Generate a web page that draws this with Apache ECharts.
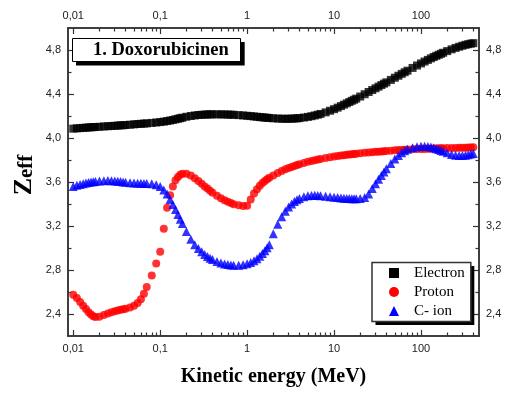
<!DOCTYPE html>
<html>
<head>
<meta charset="utf-8">
<title>Zeff - Doxorubicinen</title>
<script src="https://cdn.jsdelivr.net/npm/echarts@6/dist/echarts.min.js"></script>
<style>
html, body { margin: 0; padding: 0; background: #fff; }
#zeffChart { width: 506px; height: 394px; }
</style>
</head>
<body>
<div id="zeffChart"></div>
<script>
// energy grid (MeV)
var energy = [
	0.010, 0.011, 0.012, 0.013, 0.014, 0.015, 0.016, 0.017, 0.018, 0.020, 0.0225, 0.025, 0.0275,
	0.030, 0.0325, 0.035, 0.0375, 0.040, 0.045, 0.050, 0.055, 0.060, 0.065, 0.070, 0.080, 0.090,
	0.10, 0.11, 0.12, 0.13, 0.14, 0.15, 0.16, 0.17, 0.18, 0.20, 0.225, 0.25, 0.275,
	0.30, 0.325, 0.35, 0.375, 0.40, 0.45, 0.50, 0.55, 0.60, 0.65, 0.70, 0.80, 0.90,
	1.0, 1.1, 1.2, 1.3, 1.4, 1.5, 1.6, 1.7, 1.8, 2.0, 2.25, 2.5, 2.75,
	3.0, 3.25, 3.5, 3.75, 4.0, 4.5, 5.0, 5.5, 6.0, 6.5, 7.0, 8.0, 9.0,
	10, 11, 12, 13, 14, 15, 16, 17, 18, 20, 22.5, 25, 27.5,
	30, 32.5, 35, 37.5, 40, 45, 50, 55, 60, 65, 70, 80, 90,
	100, 110, 120, 130, 140, 150, 160, 170, 180, 200, 225, 250, 275,
	300, 325, 350, 375, 400
];
var electron = [
	4.085, 4.088, 4.090, 4.092, 4.094, 4.096, 4.097, 4.099, 4.100, 4.102, 4.105, 4.107, 4.109,
	4.111, 4.113, 4.115, 4.116, 4.118, 4.121, 4.124, 4.127, 4.129, 4.131, 4.133, 4.137, 4.141,
	4.145, 4.149, 4.154, 4.159, 4.164, 4.170, 4.175, 4.180, 4.185, 4.193, 4.200, 4.205, 4.209,
	4.211, 4.213, 4.214, 4.215, 4.215, 4.215, 4.215, 4.214, 4.213, 4.212, 4.211, 4.208, 4.205,
	4.202, 4.199, 4.196, 4.193, 4.190, 4.188, 4.186, 4.184, 4.182, 4.179, 4.177, 4.175, 4.175,
	4.175, 4.176, 4.177, 4.179, 4.181, 4.186, 4.192, 4.198, 4.205, 4.212, 4.219, 4.233, 4.248,
	4.262, 4.276, 4.290, 4.303, 4.315, 4.327, 4.338, 4.348, 4.358, 4.377, 4.398, 4.418, 4.436,
	4.452, 4.467, 4.481, 4.494, 4.506, 4.528, 4.548, 4.566, 4.583, 4.598, 4.612, 4.637, 4.659,
	4.678, 4.695, 4.710, 4.724, 4.736, 4.747, 4.757, 4.766, 4.775, 4.790, 4.806, 4.819, 4.830,
	4.839, 4.847, 4.853, 4.858, 4.862
];
var proton = [
	2.575, 2.545, 2.510, 2.475, 2.445, 2.415, 2.395, 2.380, 2.372, 2.375, 2.390, 2.405, 2.415,
	2.425, 2.432, 2.438, 2.443, 2.448, 2.458, 2.475, 2.500, 2.535, 2.585, 2.645, 2.750, 2.860,
	2.965, 3.175, 3.365, 3.480, 3.560, 3.615, 3.645, 3.665, 3.675, 3.675, 3.660, 3.635, 3.610,
	3.585, 3.560, 3.540, 3.520, 3.503, 3.475, 3.452, 3.435, 3.420, 3.408, 3.398, 3.388, 3.382,
	3.385, 3.440, 3.495, 3.535, 3.565, 3.590, 3.610, 3.625, 3.638, 3.660, 3.682, 3.700, 3.715,
	3.727, 3.737, 3.746, 3.754, 3.761, 3.773, 3.783, 3.791, 3.798, 3.804, 3.810, 3.818, 3.825,
	3.831, 3.836, 3.840, 3.844, 3.847, 3.850, 3.853, 3.855, 3.857, 3.861, 3.865, 3.868, 3.871,
	3.874, 3.876, 3.878, 3.880, 3.882, 3.885, 3.888, 3.890, 3.892, 3.893, 3.895, 3.897, 3.899,
	3.900, 3.901, 3.902, 3.903, 3.904, 3.905, 3.906, 3.906, 3.907, 3.908, 3.909, 3.910, 3.911,
	3.912, 3.912, 3.913, 3.914, 3.915
];
var carbonIon = [
	3.560, 3.570, 3.578, 3.585, 3.590, 3.595, 3.599, 3.602, 3.605, 3.609, 3.612, 3.613, 3.612,
	3.610, 3.607, 3.604, 3.601, 3.598, 3.594, 3.591, 3.589, 3.588, 3.587, 3.586, 3.583, 3.575,
	3.560, 3.528, 3.490, 3.440, 3.395, 3.350, 3.305, 3.262, 3.222, 3.150, 3.080, 3.030, 2.995,
	2.965, 2.942, 2.923, 2.907, 2.895, 2.877, 2.864, 2.855, 2.849, 2.845, 2.843, 2.843, 2.848,
	2.856, 2.868, 2.883, 2.902, 2.924, 2.950, 2.975, 3.002, 3.030, 3.130, 3.215, 3.285, 3.335,
	3.372, 3.400, 3.422, 3.438, 3.450, 3.466, 3.474, 3.478, 3.479, 3.478, 3.476, 3.471, 3.466,
	3.462, 3.458, 3.455, 3.452, 3.450, 3.449, 3.448, 3.448, 3.448, 3.450, 3.458, 3.490, 3.540,
	3.585, 3.625, 3.660, 3.692, 3.720, 3.768, 3.808, 3.840, 3.866, 3.884, 3.897, 3.912, 3.920,
	3.924, 3.925, 3.923, 3.918, 3.911, 3.903, 3.895, 3.887, 3.879, 3.865, 3.851, 3.843, 3.840,
	3.840, 3.843, 3.848, 3.854, 3.858
];
var seriesNames = ['Electron', 'Proton', 'C- ion'];
var xMajorTicks = [0.01, 0.1, 1, 10, 100];
var xMinorTicks = [
	0.02, 0.03, 0.04, 0.05, 0.06, 0.07, 0.08, 0.09,
	0.2, 0.3, 0.4, 0.5, 0.6, 0.7, 0.8, 0.9,
	2, 3, 4, 5, 6, 7, 8, 9,
	20, 30, 40, 50, 60, 70, 80, 90,
	200, 300, 400
];
var yMajorTicks = [2.4, 2.8, 3.2, 3.6, 4.0, 4.4, 4.8];
var yMinorTicks = [2.6, 3.0, 3.4, 3.8, 4.2, 4.6];
var chartTitle = '1. Doxorubicinen';

var X_MIN = 0.0087, X_MAX = 465, Y_MIN = 2.2, Y_MAX = 5.0;
var AXIS_COLOR = '#333';
var SERIF = 'Liberation Serif';

var pairs = function (ys) {
	var out = [];
	for (var i = 0; i < energy.length; i++) {
		out.push([energy[i], ys[i]]);
	}
	return out;
};

var commaFmt = function (v) {
	return String(+Number(v).toPrecision(6)).replace('.', ',');
};
var commaFmtY = function (v) {
	return Number(v).toFixed(1).replace('.', ',');
};

var labelStyle = {
	fontFamily: 'Liberation Sans',
	fontSize: 11,
	color: '#222'
};

//x axes: bottom/top major + bottom/top minor
var makeXAxis = function (pos, ticks, len, withLabels) {
	return {
		type: 'log',
		logBase: 10,
		position: pos,
		min: X_MIN,
		max: X_MAX,
		axisLine: { show: true, onZero: false, lineStyle: { color: AXIS_COLOR, width: 1.5 } },
		axisTick: { show: true, inside: true, length: len, customValues: ticks,
			lineStyle: { color: AXIS_COLOR, width: 1.2 } },
		axisLabel: Object.assign({ show: withLabels, customValues: ticks, margin: 7,
			formatter: commaFmt }, labelStyle),
		splitLine: { show: false },
		minorTick: { show: false }
	};
};
//y axes: left/right major + left/right minor
var makeYAxis = function (pos, ticks, len, withLabels) {
	return {
		type: 'value',
		position: pos,
		min: Y_MIN,
		max: Y_MAX,
		axisLine: { show: true, onZero: false, lineStyle: { color: AXIS_COLOR, width: 1.5 } },
		axisTick: { show: true, inside: true, length: len, customValues: ticks,
			lineStyle: { color: AXIS_COLOR, width: 1.2 } },
		axisLabel: Object.assign({ show: withLabels, customValues: ticks, margin: 7,
			formatter: commaFmtY }, labelStyle),
		splitLine: { show: false },
		minorTick: { show: false }
	};
};

var xBottom = makeXAxis('bottom', xMajorTicks, 6, true);
xBottom.name = 'Kinetic energy (MeV)';
xBottom.nameLocation = 'middle';
xBottom.nameGap = 31;
xBottom.nameMoveOverlap = false;
xBottom.nameTextStyle = { fontFamily: SERIF, fontWeight: 'bold', fontSize: 20, color: '#000' };

var yLeft = makeYAxis('left', yMajorTicks, 6, true);
yLeft.name = '{z|Z}{e|eff}';
yLeft.nameLocation = 'middle';
yLeft.nameRotate = 90;
yLeft.nameGap = 31;
yLeft.nameMoveOverlap = false;
yLeft.nameTextStyle = {
	padding: [0, 0, 0, 14],
	rich: {
		z: { fontFamily: SERIF, fontWeight: 'bold', fontSize: 26, lineHeight: 26,
			color: '#000', verticalAlign: 'bottom' },
		e: { fontFamily: SERIF, fontWeight: 'bold', fontSize: 21, lineHeight: 21,
			color: '#000', verticalAlign: 'bottom' }
	}
};

// legend / title boxes: a black copy shifted 4px under the real one as drop shadow
var legendBase = function (left, top, bg, border, textColor, iconOpacity, z) {
	return {
		orient: 'vertical',
		left: left,
		top: top,
		z: z,
		data: seriesNames,
		selectedMode: false,
		itemWidth: 10,
		itemHeight: 10,
		itemGap: 4,
		padding: [3, 6, 3, 17],
		backgroundColor: bg,
		borderColor: AXIS_COLOR,
		borderWidth: border,
		itemStyle: { opacity: iconOpacity },
		textStyle: { fontFamily: SERIF, fontSize: 15, color: textColor, padding: [0, 0, 0, 10] }
	};
};
var titleBase = function (left, top, bg, border, textColor, z) {
	return {
		text: chartTitle,
		left: left,
		top: top,
		z: z,
		padding: [2, 12, 2, 21],
		backgroundColor: bg,
		borderColor: '#000',
		borderWidth: border,
		textStyle: { fontFamily: SERIF, fontWeight: 'bold', fontSize: 18.5, lineHeight: 19.5, color: textColor }
	};
};

var zeffChart = echarts.init(document.getElementById('zeffChart'));
var zeffOption = {
	animation: false,
	backgroundColor: '#fff',
	title: [
		titleBase(76, 42, '#000', 0, 'rgba(0,0,0,0)', 5),
		titleBase(72, 38, '#fff', 1, '#000', 6)
	],
	legend: [
		legendBase(375.5, 266, '#000', 0, 'rgba(0,0,0,0)', 0, 3),
		legendBase(372, 262.5, '#fff', 1.5, '#000', 1, 4)
	],
	grid: {
		left: 68,
		right: 27,
		top: 28,
		bottom: 58,
		containLabel: false,
		outerBoundsMode: 'none'
	},
	xAxis: [
		xBottom,
		makeXAxis('top', xMajorTicks, 6, true),
		makeXAxis('bottom', xMinorTicks, 3.5, false),
		makeXAxis('top', xMinorTicks, 3.5, false)
	],
	yAxis: [
		yLeft,
		makeYAxis('right', yMajorTicks, 6, true),
		makeYAxis('left', yMinorTicks, 3.5, false),
		makeYAxis('right', yMinorTicks, 3.5, false)
	],
	series: [
		{
			name: seriesNames[0],
			type: 'scatter',
			symbol: 'rect',
			symbolSize: 8,
			data: pairs(electron),
			itemStyle: { color: '#000' },
			emphasis: { disabled: true }
		},
		{
			name: seriesNames[1],
			type: 'scatter',
			symbol: 'circle',
			symbolSize: 8,
			data: pairs(proton),
			itemStyle: { color: '#ff0000' },
			emphasis: { disabled: true }
		},
		{
			name: seriesNames[2],
			type: 'scatter',
			symbol: 'triangle',
			symbolSize: 9,
			data: pairs(carbonIon),
			itemStyle: { color: '#0000ff' },
			emphasis: { disabled: true }
		}
	]
};
zeffChart.setOption(zeffOption);
</script>
</body>
</html>
